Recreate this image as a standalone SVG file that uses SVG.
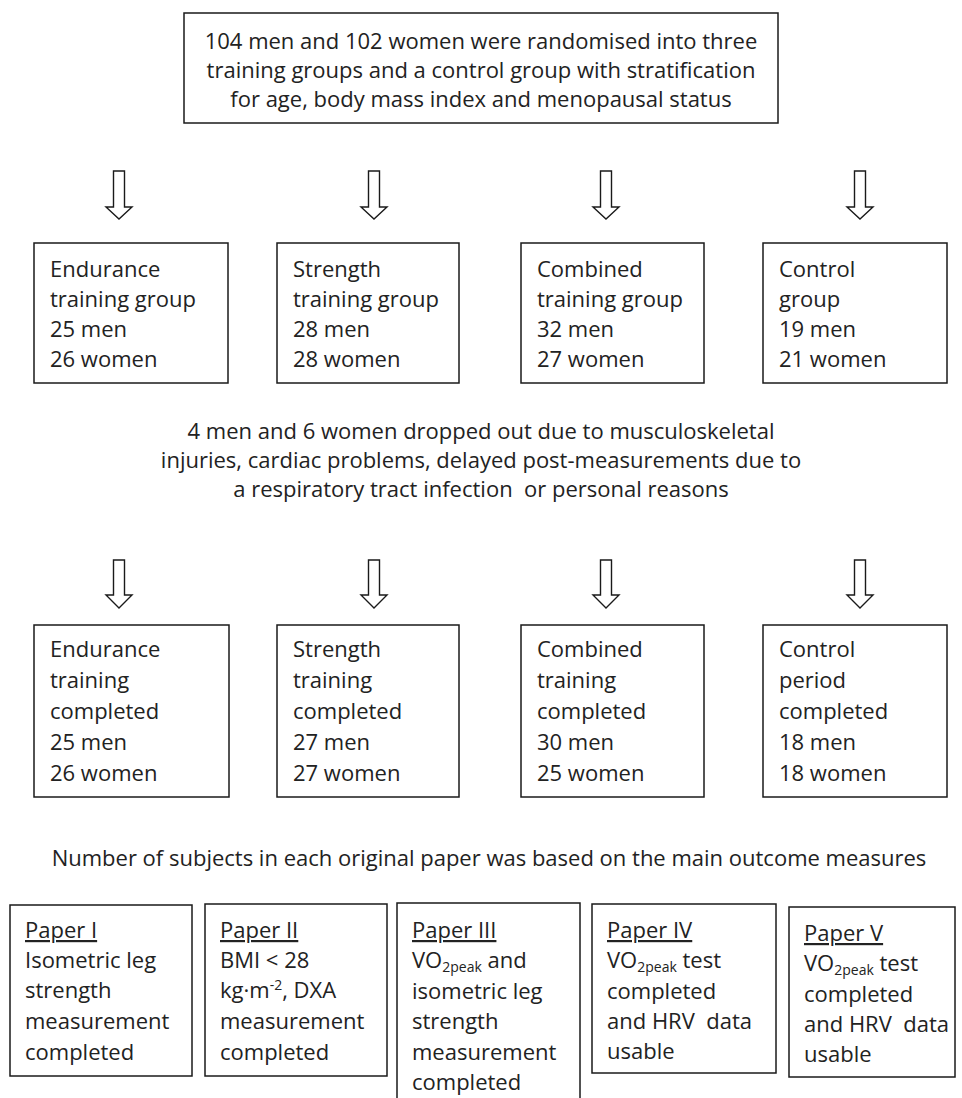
<svg xmlns="http://www.w3.org/2000/svg" width="962" height="1098" viewBox="0 0 962 1098" xml:space="preserve">
<style>
  .box { fill: #ffffff; stroke: #1a1a1a; stroke-width: 1.5; }
  .arr { fill: #ffffff; stroke: #1a1a1a; stroke-width: 1.4; stroke-linejoin: miter; }
  .t { font-family: "Open Sans", "Liberation Sans", sans-serif; font-size: 22px; fill: #222222; white-space: pre; }
  .c { text-anchor: middle; }
  .u { text-decoration: underline; }
  .sub { font-size: 14px; }
  .sup { font-size: 14px; }
</style>
<rect width="962" height="1098" fill="#ffffff"/>

<g id="randomised">
  <rect class="box" x="184" y="13" width="594" height="110"/>
  <text class="t c" x="481" y="49">104 men and 102 women were randomised into three</text>
  <text class="t c" x="481" y="78">training groups and a control group with stratification</text>
  <text class="t c" x="481" y="107">for age, body mass index and menopausal status</text>
</g>

<g id="connectors">
  <path class="arr" d="M113.5,171 H124.5 V207 H132 L119,219 L106,207 H113.5 Z"/>
  <path class="arr" d="M368.5,171 H379.5 V207 H387 L374,219 L361,207 H368.5 Z"/>
  <path class="arr" d="M600.5,171 H611.5 V207 H619 L606,219 L593,207 H600.5 Z"/>
  <path class="arr" d="M854.5,171 H865.5 V207 H873 L860,219 L847,207 H854.5 Z"/>
  <path class="arr" d="M113.5,560 H124.5 V595 H132 L119,608 L106,595 H113.5 Z"/>
  <path class="arr" d="M368.5,560 H379.5 V595 H387 L374,608 L361,595 H368.5 Z"/>
  <path class="arr" d="M600.5,560 H611.5 V595 H619 L606,608 L593,595 H600.5 Z"/>
  <path class="arr" d="M854.5,560 H865.5 V595 H873 L860,608 L847,595 H854.5 Z"/>
</g>

<g id="endurance-group">
  <rect class="box" x="34" y="243" width="194" height="140"/>
  <text class="t" x="50" y="277">Endurance</text>
  <text class="t" x="50" y="307">training group</text>
  <text class="t" x="50" y="337">25 men</text>
  <text class="t" x="50" y="367">26 women</text>
</g>
<g id="strength-group">
  <rect class="box" x="277" y="243" width="182" height="140"/>
  <text class="t" x="293" y="277">Strength</text>
  <text class="t" x="293" y="307">training group</text>
  <text class="t" x="293" y="337">28 men</text>
  <text class="t" x="293" y="367">28 women</text>
</g>
<g id="combined-group">
  <rect class="box" x="521" y="243" width="183" height="140"/>
  <text class="t" x="537" y="277">Combined</text>
  <text class="t" x="537" y="307">training group</text>
  <text class="t" x="537" y="337">32 men</text>
  <text class="t" x="537" y="367">27 women</text>
</g>
<g id="control-group">
  <rect class="box" x="763" y="243" width="184" height="140"/>
  <text class="t" x="779" y="277">Control</text>
  <text class="t" x="779" y="307">group</text>
  <text class="t" x="779" y="337">19 men</text>
  <text class="t" x="779" y="367">21 women</text>
</g>

<g id="dropouts">
  <text class="t c" x="481" y="439">4 men and 6 women dropped out due to musculoskeletal</text>
  <text class="t c" x="481" y="468">injuries, cardiac problems, delayed post-measurements due to</text>
  <text class="t c" x="481" y="497">a respiratory tract infection  or personal reasons</text>
</g>

<g id="endurance-completed">
  <rect class="box" x="34" y="625" width="195" height="172"/>
  <text class="t" x="50" y="657">Endurance</text>
  <text class="t" x="50" y="688">training</text>
  <text class="t" x="50" y="719">completed</text>
  <text class="t" x="50" y="750">25 men</text>
  <text class="t" x="50" y="781">26 women</text>
</g>
<g id="strength-completed">
  <rect class="box" x="277" y="625" width="182" height="172"/>
  <text class="t" x="293" y="657">Strength</text>
  <text class="t" x="293" y="688">training</text>
  <text class="t" x="293" y="719">completed</text>
  <text class="t" x="293" y="750">27 men</text>
  <text class="t" x="293" y="781">27 women</text>
</g>
<g id="combined-completed">
  <rect class="box" x="521" y="625" width="183" height="172"/>
  <text class="t" x="537" y="657">Combined</text>
  <text class="t" x="537" y="688">training</text>
  <text class="t" x="537" y="719">completed</text>
  <text class="t" x="537" y="750">30 men</text>
  <text class="t" x="537" y="781">25 women</text>
</g>
<g id="control-completed">
  <rect class="box" x="763" y="625" width="184" height="172"/>
  <text class="t" x="779" y="657">Control</text>
  <text class="t" x="779" y="688">period</text>
  <text class="t" x="779" y="719">completed</text>
  <text class="t" x="779" y="750">18 men</text>
  <text class="t" x="779" y="781">18 women</text>
</g>

<g id="papers-note">
  <text class="t c" x="489" y="866">Number of subjects in each original paper was based on the main outcome measures</text>
</g>

<g id="paper-1">
  <rect class="box" x="10" y="905" width="182" height="171"/>
  <text class="t u" x="25" y="938">Paper I</text>
  <text class="t" x="25" y="968">Isometric leg</text>
  <text class="t" x="25" y="998">strength</text>
  <text class="t" x="25" y="1029">measurement</text>
  <text class="t" x="25" y="1060">completed</text>
</g>
<g id="paper-2">
  <rect class="box" x="205" y="904" width="182" height="172"/>
  <text class="t u" x="220" y="938">Paper II</text>
  <text class="t" x="220" y="968">BMI &lt; 28</text>
  <text class="t" x="220" y="998">kg·m<tspan class="sup" dy="-8">-2</tspan><tspan dy="8">, DXA</tspan></text>
  <text class="t" x="220" y="1029">measurement</text>
  <text class="t" x="220" y="1060">completed</text>
</g>
<g id="paper-3">
  <rect class="box" x="397" y="903" width="183" height="210"/>
  <text class="t u" x="412" y="938">Paper III</text>
  <text class="t" x="412" y="968">VO<tspan class="sub" dy="4">2peak</tspan><tspan dy="-4"> and</tspan></text>
  <text class="t" x="412" y="999">isometric leg</text>
  <text class="t" x="412" y="1029">strength</text>
  <text class="t" x="412" y="1060">measurement</text>
  <text class="t" x="412" y="1090">completed</text>
</g>
<g id="paper-4">
  <rect class="box" x="592" y="904" width="184" height="169"/>
  <text class="t u" x="607" y="938">Paper IV</text>
  <text class="t" x="607" y="968">VO<tspan class="sub" dy="4">2peak</tspan><tspan dy="-4"> test</tspan></text>
  <text class="t" x="607" y="999">completed</text>
  <text class="t" x="607" y="1029">and HRV  data</text>
  <text class="t" x="607" y="1059">usable</text>
</g>
<g id="paper-5">
  <rect class="box" x="789" y="907" width="166" height="170"/>
  <text class="t u" x="804" y="941">Paper V</text>
  <text class="t" x="804" y="971">VO<tspan class="sub" dy="4">2peak</tspan><tspan dy="-4"> test</tspan></text>
  <text class="t" x="804" y="1002">completed</text>
  <text class="t" x="804" y="1032">and HRV  data</text>
  <text class="t" x="804" y="1062">usable</text>
</g>
</svg>
